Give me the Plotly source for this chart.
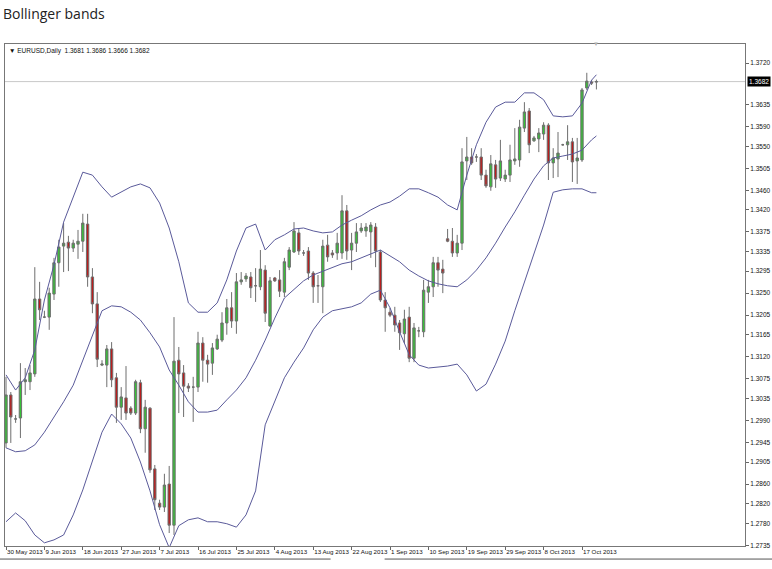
import plotly.graph_objects as go

TITLE = "Bollinger bands"
HEADER = "▼ EURUSD,Daily  1.3681 1.3686 1.3666 1.3682"
CURRENT_PRICE = 1.3682

DATE_TICK_INDEX = [0, 8, 16, 24, 32, 40, 48, 56, 64, 72, 80, 88, 96, 104, 112, 120]
DATE_TICK_TEXT = ["30 May 2013", "9 Jun 2013", "18 Jun 2013", "27 Jun 2013", "7 Jul 2013",
                  "16 Jul 2013", "25 Jul 2013", "4 Aug 2013", "13 Aug 2013", "22 Aug 2013",
                  "1 Sep 2013", "10 Sep 2013", "19 Sep 2013", "29 Sep 2013", "8 Oct 2013",
                  "17 Oct 2013"]

PRICE_TICKS = ["1.3720", "1.3635", "1.3590", "1.3550", "1.3505", "1.3460", "1.3420", "1.3375",
               "1.3335", "1.3295", "1.3250", "1.3205", "1.3165", "1.3120", "1.3075", "1.3035",
               "1.2990", "1.2945", "1.2905", "1.2860", "1.2820", "1.2780", "1.2735"]

OPEN = [1.2944, 1.3042, 1.2993, 1.2995, 1.3069, 1.3069, 1.3085, 1.3238, 1.3201, 1.3201,
        1.3248, 1.3312, 1.3346, 1.3354, 1.3342, 1.3350, 1.3356, 1.3391, 1.3283, 1.3228,
        1.3103, 1.3103, 1.3136, 1.3077, 1.3017, 1.3036, 1.3015, 1.3005, 1.3067, 1.2973,
        1.3015, 1.2891, 1.2821, 1.2813, 1.2860, 1.2776, 1.3113, 1.3087, 1.3060, 1.3058,
        1.3058, 1.3148, 1.3113, 1.3107, 1.3136, 1.3154, 1.3189, 1.3220, 1.3193, 1.3273,
        1.3279, 1.3283, 1.3265, 1.3263, 1.3297, 1.3183, 1.3281, 1.3277, 1.3252, 1.3303,
        1.3334, 1.3373, 1.3332, 1.3336, 1.3291, 1.3265, 1.3263, 1.3348, 1.3332, 1.3332,
        1.3332, 1.3418, 1.3338, 1.3352, 1.3377, 1.3377, 1.3375, 1.3385, 1.3334, 1.3236,
        1.3211, 1.3205, 1.3189, 1.3167, 1.3201, 1.3117, 1.3173, 1.3171, 1.3252, 1.3263,
        1.3312, 1.3299, 1.3361, 1.3356, 1.3332, 1.3352, 1.3520, 1.3528, 1.3528, 1.3528,
        1.3491, 1.3467, 1.3512, 1.3485, 1.3483, 1.3491, 1.3520, 1.3522, 1.3587, 1.3622,
        1.3561, 1.3565, 1.3575, 1.3593, 1.3516, 1.3524, 1.3553, 1.3553, 1.3559, 1.3520,
        1.3522, 1.3669, 1.3681, 1.3681]

HIGH = [1.3079, 1.3048, 1.3001, 1.3107, 1.3097, 1.3103, 1.3303, 1.3273, 1.3214, 1.3261,
        1.3322, 1.3359, 1.3393, 1.3367, 1.3359, 1.3379, 1.3412, 1.3412, 1.3301, 1.3252,
        1.3113, 1.3144, 1.3150, 1.3087, 1.3058, 1.3101, 1.3019, 1.3073, 1.3073, 1.3032,
        1.3017, 1.2899, 1.2828, 1.2881, 1.2897, 1.3201, 1.3140, 1.3103, 1.3066, 1.3079,
        1.3171, 1.3160, 1.3124, 1.3148, 1.3165, 1.3211, 1.3238, 1.3252, 1.3291, 1.3293,
        1.3291, 1.3293, 1.3301, 1.3338, 1.3307, 1.3283, 1.3283, 1.3297, 1.3322, 1.3344,
        1.3395, 1.3383, 1.3338, 1.3344, 1.3295, 1.3287, 1.3359, 1.3369, 1.3338, 1.3373,
        1.3450, 1.3430, 1.3373, 1.3393, 1.3393, 1.3393, 1.3395, 1.3393, 1.3338, 1.3252,
        1.3220, 1.3222, 1.3195, 1.3216, 1.3222, 1.3189, 1.3181, 1.3277, 1.3277, 1.3324,
        1.3324, 1.3318, 1.3381, 1.3383, 1.3369, 1.3546, 1.3569, 1.3546, 1.3534, 1.3546,
        1.3502, 1.3532, 1.3522, 1.3563, 1.3502, 1.3553, 1.3587, 1.3604, 1.3640, 1.3628,
        1.3571, 1.3587, 1.3599, 1.3597, 1.3546, 1.3579, 1.3555, 1.3593, 1.3567, 1.3567,
        1.3669, 1.3700, 1.3685, 1.3686]

LOW = [1.2934, 1.2944, 1.2985, 1.2954, 1.3042, 1.3052, 1.3079, 1.3195, 1.3199, 1.3175,
       1.3236, 1.3263, 1.3293, 1.3295, 1.3334, 1.3320, 1.3334, 1.3263, 1.3209, 1.3099,
       1.3101, 1.3058, 1.3058, 1.2985, 1.2991, 1.2991, 1.3001, 1.3001, 1.2964, 1.2924,
       1.2883, 1.2807, 1.2807, 1.2803, 1.2760, 1.2756, 1.3005, 1.2997, 1.3048, 1.2987,
       1.3048, 1.3069, 1.3067, 1.3083, 1.3134, 1.3150, 1.3165, 1.3179, 1.3167, 1.3267,
       1.3273, 1.3240, 1.3232, 1.3256, 1.3191, 1.3181, 1.3273, 1.3242, 1.3242, 1.3297,
       1.3332, 1.3328, 1.3326, 1.3277, 1.3230, 1.3230, 1.3209, 1.3314, 1.3322, 1.3318,
       1.3320, 1.3318, 1.3297, 1.3334, 1.3373, 1.3365, 1.3322, 1.3303, 1.3232, 1.3171,
       1.3201, 1.3171, 1.3134, 1.3148, 1.3109, 1.3109, 1.3160, 1.3160, 1.3230, 1.3242,
       1.3263, 1.3250, 1.3354, 1.3324, 1.3324, 1.3338, 1.3481, 1.3512, 1.3518, 1.3481,
       1.3465, 1.3459, 1.3465, 1.3479, 1.3477, 1.3477, 1.3512, 1.3508, 1.3579, 1.3536,
       1.3559, 1.3538, 1.3563, 1.3481, 1.3485, 1.3487, 1.3551, 1.3522, 1.3477, 1.3473,
       1.3518, 1.3665, 1.3675, 1.3666]

CLOSE = [1.3042, 1.2997, 1.2993, 1.3069, 1.3073, 1.3087, 1.3238, 1.3216, 1.3201, 1.3250,
         1.3312, 1.3344, 1.3352, 1.3342, 1.3352, 1.3356, 1.3393, 1.3283, 1.3228, 1.3115,
         1.3105, 1.3136, 1.3073, 1.3017, 1.3038, 1.3005, 1.3005, 1.3069, 1.2973, 1.3017,
         1.2889, 1.2828, 1.2813, 1.2858, 1.2776, 1.3111, 1.3085, 1.3060, 1.3056, 1.3058,
         1.3148, 1.3113, 1.3105, 1.3138, 1.3156, 1.3189, 1.3220, 1.3193, 1.3273, 1.3277,
         1.3285, 1.3261, 1.3265, 1.3299, 1.3209, 1.3275, 1.3275, 1.3254, 1.3314, 1.3338,
         1.3377, 1.3336, 1.3332, 1.3291, 1.3263, 1.3265, 1.3346, 1.3324, 1.3328, 1.3352,
         1.3418, 1.3336, 1.3352, 1.3375, 1.3383, 1.3385, 1.3389, 1.3336, 1.3236, 1.3220,
         1.3205, 1.3185, 1.3169, 1.3197, 1.3117, 1.3179, 1.3173, 1.3256, 1.3263, 1.3312,
         1.3297, 1.3291, 1.3356, 1.3332, 1.3352, 1.3518, 1.3528, 1.3516, 1.3528, 1.3491,
         1.3469, 1.3514, 1.3483, 1.3520, 1.3491, 1.3522, 1.3524, 1.3589, 1.3620, 1.3553,
         1.3567, 1.3577, 1.3593, 1.3516, 1.3526, 1.3536, 1.3553, 1.3559, 1.3518, 1.3526,
         1.3665, 1.3683, 1.3679, 1.3682]

BAND_INDEX = list(range(0, 123, 2)) + [123]

UPPER = [1.3083, 1.3052, 1.3077, 1.3134, 1.3236, 1.3308, 1.3395, 1.3448, 1.3497, 1.3491,
         1.3467, 1.3446, 1.3456, 1.3467, 1.3473, 1.3465, 1.3434, 1.3383, 1.3314, 1.3230,
         1.3211, 1.3211, 1.3230, 1.3277, 1.3336, 1.3383, 1.3391, 1.3338, 1.3359, 1.3369,
         1.3381, 1.3383, 1.3377, 1.3373, 1.3375, 1.3389, 1.3399, 1.3408, 1.3420, 1.3430,
         1.3436, 1.3448, 1.3463, 1.3463, 1.3455, 1.3446, 1.3430, 1.3420, 1.3491, 1.3553,
         1.3599, 1.3630, 1.3640, 1.3640, 1.3659, 1.3659, 1.3645, 1.3612, 1.3610, 1.3612,
         1.3638, 1.3685, 1.3696]

MIDDLE = [1.2934, 1.2926, 1.2928, 1.2940, 1.2966, 1.2997, 1.3028, 1.3062, 1.3113, 1.3160,
          1.3214, 1.3224, 1.3222, 1.3211, 1.3195, 1.3169, 1.3140, 1.3093, 1.3062, 1.3028,
          1.3007, 1.3007, 1.3011, 1.3032, 1.3052, 1.3077, 1.3113, 1.3154, 1.3199, 1.3240,
          1.3258, 1.3275, 1.3287, 1.3295, 1.3303, 1.3310, 1.3314, 1.3322, 1.3330, 1.3338,
          1.3326, 1.3314, 1.3297, 1.3285, 1.3275, 1.3269, 1.3265, 1.3263, 1.3277, 1.3297,
          1.3322, 1.3352, 1.3385, 1.3416, 1.3450, 1.3483, 1.3510, 1.3526, 1.3530, 1.3534,
          1.3542, 1.3563, 1.3571]

LOWER = [1.2783, 1.2801, 1.2785, 1.2756, 1.2740, 1.2746, 1.2756, 1.2797, 1.2848, 1.2909,
         1.2966, 1.3003, 1.2983, 1.2954, 1.2905, 1.2846, 1.2777, 1.2730, 1.2775, 1.2787,
         1.2791, 1.2783, 1.2783, 1.2779, 1.2772, 1.2797, 1.2846, 1.2981, 1.3028, 1.3077,
         1.3109, 1.3138, 1.3175, 1.3201, 1.3214, 1.3218, 1.3222, 1.3230, 1.3248, 1.3256,
         1.3220, 1.3171, 1.3124, 1.3103, 1.3097, 1.3099, 1.3101, 1.3105, 1.3083, 1.3050,
         1.3064, 1.3105, 1.3152, 1.3214, 1.3273, 1.3334, 1.3389, 1.3456, 1.3461, 1.3463,
         1.3463, 1.3455, 1.3455]

BAR_INDEX = list(range(len(OPEN)))
BAND_COLOR = "#5a5a9a"
FONT = "Liberation Sans, Arial, sans-serif"

fig = go.Figure()
fig.add_trace(go.Candlestick(
    x=BAR_INDEX, open=OPEN, high=HIGH, low=LOW, close=CLOSE,
    increasing=dict(line=dict(color="#6e6e6e", width=1), fillcolor="#38c038"),
    decreasing=dict(line=dict(color="#6e6e6e", width=1), fillcolor="#b81e1e"),
    whiskerwidth=0, hoverinfo="skip"))
for band in (UPPER, MIDDLE, LOWER):
    fig.add_trace(go.Scatter(x=BAND_INDEX, y=band, mode="lines",
                             line=dict(color=BAND_COLOR, width=1), hoverinfo="skip"))

fig.add_shape(type="line", xref="paper", x0=0, x1=1, yref="y", y0=CURRENT_PRICE, y1=CURRENT_PRICE,
              line=dict(color="#c8c8c8", width=1), layer="below")
# tab strip line under the chart
fig.add_shape(type="line", xref="paper", yref="paper", x0=-0.007, x1=0.44, y0=-0.026, y1=-0.026,
              line=dict(color="#555", width=1))
fig.add_shape(type="line", xref="paper", yref="paper", x0=0.513, x1=1.04, y0=-0.026, y1=-0.026,
              line=dict(color="#555", width=1))

fig.add_annotation(text=HEADER, xref="paper", yref="paper", x=0.003, y=1, xanchor="left",
                   yanchor="top", yshift=-1, showarrow=False,
                   font=dict(family=FONT, size=6.5, color="#111"))
fig.add_annotation(text=f"{CURRENT_PRICE:.4f}", xref="paper", yref="y", x=1, y=CURRENT_PRICE,
                   xanchor="left", yanchor="middle", xshift=2, showarrow=False,
                   bgcolor="#000", borderpad=1, font=dict(family=FONT, size=6.5, color="#fff"))
fig.add_annotation(text="▼", xref="x", yref="paper", x=BAR_INDEX[-1], y=1, yanchor="middle",
                   showarrow=False, font=dict(size=6, color="#b0b0b0"))

fig.update_layout(
    width=772, height=569,
    margin=dict(l=5, r=27, t=44, b=23, autoexpand=False),
    paper_bgcolor="white", plot_bgcolor="white",
    showlegend=False,
    title=dict(text=TITLE, x=0.004, xref="container", xanchor="left",
               y=1 - 14 / 569, yref="container", yanchor="middle",
               font=dict(family="Open Sans, sans-serif", size=14, color="#222")),
    xaxis=dict(range=[-0.21, 153.96], tickvals=DATE_TICK_INDEX, ticktext=DATE_TICK_TEXT,
               ticks="outside", ticklen=3, tickcolor="#666", showgrid=False, zeroline=False,
               showline=True, linecolor="#777", mirror=True, rangeslider=dict(visible=False),
               ticklabelposition="outside right", tickangle=0, automargin=False,
               tickfont=dict(family=FONT, size=6.2, color="#111")),
    yaxis=dict(side="right", range=[1.27335, 1.37588],
               tickvals=[float(t) for t in PRICE_TICKS], ticktext=PRICE_TICKS,
               ticks="outside", ticklen=3, tickcolor="#666", showgrid=False, zeroline=False,
               showline=True, linecolor="#777", mirror=True, automargin=False,
               tickfont=dict(family=FONT, size=6.5, color="#111")),
)

fig.write_html("out.html", config={"displayModeBar": False},
               post_script="document.body.style.margin='0';document.body.style.padding='0';")
